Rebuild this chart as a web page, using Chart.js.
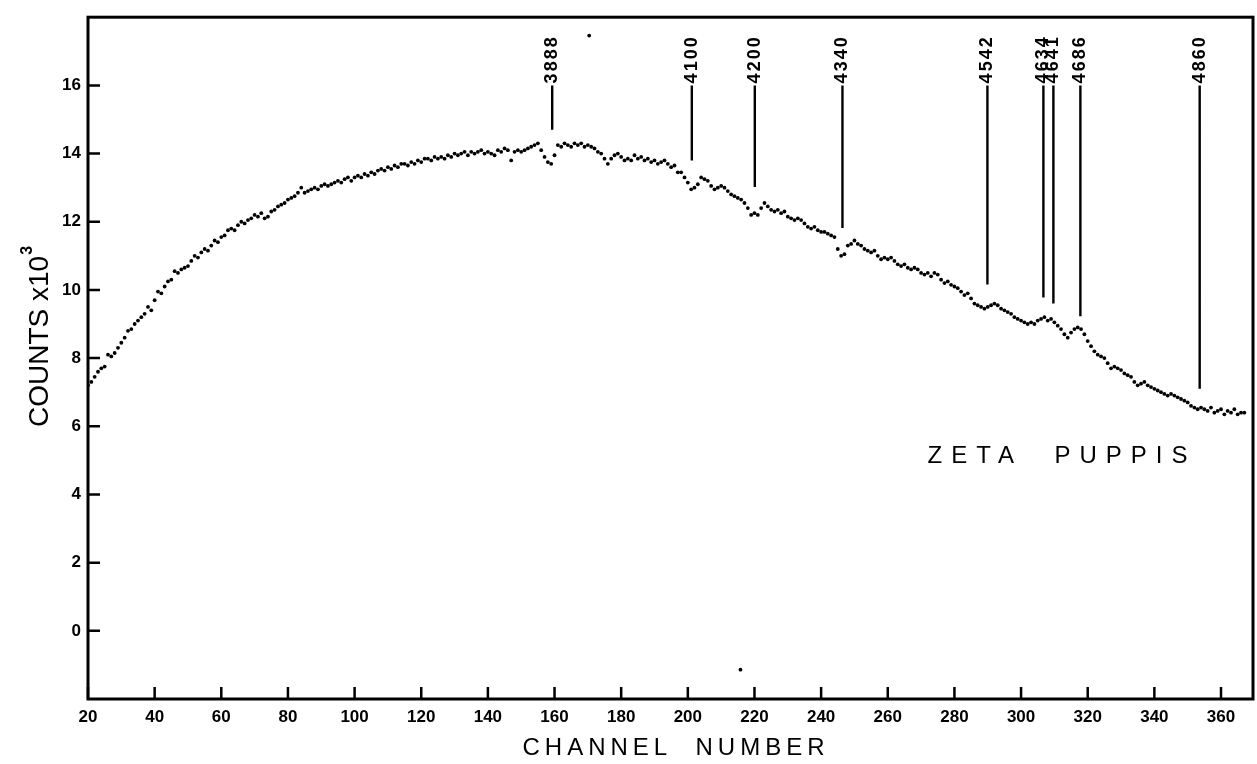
<!DOCTYPE html>
<html>
<head>
<meta charset="utf-8">
<script src="https://cdn.jsdelivr.net/npm/chart.js@4.4.1/dist/chart.umd.min.js"></script>
<style>
    body { margin: 0; background: #fff; }
    #wrap { width: 1257px; height: 764px; position: relative; }
</style>
</head>
<body>
<div id="wrap"><canvas id="spectrum"></canvas></div>
<script>
// counts (x10^3) per channel, starting at channel 20
var firstChannel = 20;
var counts = [
    7.20, 7.30, 7.45, 7.60, 7.70, 7.75, 8.10, 8.05, 8.15, 8.30,
    8.45, 8.60, 8.80, 8.85, 9.00, 9.10, 9.20, 9.30, 9.50, 9.40,
    9.70, 9.95, 9.90, 10.10, 10.25, 10.30, 10.55, 10.50, 10.60, 10.65,
    10.70, 10.85, 11.00, 10.95, 11.10, 11.20, 11.15, 11.30, 11.45, 11.40,
    11.55, 11.60, 11.75, 11.80, 11.75, 11.90, 12.00, 11.95, 12.05, 12.10,
    12.20, 12.15, 12.25, 12.10, 12.15, 12.30, 12.35, 12.45, 12.50, 12.55,
    12.65, 12.70, 12.75, 12.85, 13.00, 12.85, 12.90, 12.95, 13.00, 12.95,
    13.05, 13.10, 13.05, 13.10, 13.15, 13.20, 13.15, 13.25, 13.30, 13.20,
    13.30, 13.35, 13.30, 13.40, 13.35, 13.45, 13.40, 13.50, 13.55, 13.50,
    13.60, 13.55, 13.65, 13.60, 13.70, 13.70, 13.65, 13.75, 13.70, 13.80,
    13.75, 13.85, 13.85, 13.80, 13.90, 13.85, 13.90, 13.85, 13.95, 13.90,
    14.00, 13.95, 14.00, 14.05, 13.95, 14.05, 14.00, 14.05, 14.10, 14.00,
    14.05, 14.00, 13.95, 14.10, 14.05, 14.15, 14.10, 13.80, 14.05, 14.10,
    14.05, 14.10, 14.15, 14.20, 14.25, 14.30, 14.10, 13.90, 13.75, 13.70,
    13.95, 14.25, 14.20, 14.30, 14.25, 14.20, 14.30, 14.25, 14.30, 14.20,
    14.25, 14.20, 14.15, 14.05, 14.00, 13.85, 13.70, 13.85, 13.95, 14.00,
    13.90, 13.80, 13.85, 13.80, 13.95, 13.85, 13.90, 13.80, 13.85, 13.75,
    13.80, 13.70, 13.75, 13.80, 13.70, 13.60, 13.65, 13.45, 13.45, 13.30,
    13.15, 12.95, 13.00, 13.10, 13.30, 13.25, 13.20, 13.05, 12.95, 13.00,
    13.05, 13.00, 12.90, 12.80, 12.75, 12.70, 12.65, 12.55, 12.40, 12.20,
    12.25, 12.20, 12.40, 12.55, 12.45, 12.35, 12.30, 12.35, 12.25, 12.30,
    12.15, 12.10, 12.05, 12.10, 12.05, 11.95, 11.85, 11.80, 11.85, 11.75,
    11.70, 11.70, 11.65, 11.60, 11.55, 11.20, 11.00, 11.05, 11.30, 11.35,
    11.45, 11.35, 11.30, 11.20, 11.15, 11.10, 11.15, 11.00, 10.90, 10.95,
    10.90, 10.95, 10.85, 10.75, 10.70, 10.75, 10.65, 10.60, 10.65, 10.60,
    10.50, 10.45, 10.50, 10.40, 10.50, 10.45, 10.30, 10.20, 10.25, 10.15,
    10.10, 10.05, 9.95, 9.85, 9.90, 9.75, 9.60, 9.55, 9.50, 9.45,
    9.50, 9.55, 9.60, 9.55, 9.45, 9.40, 9.35, 9.30, 9.20, 9.15,
    9.10, 9.05, 9.00, 9.05, 9.00, 9.10, 9.15, 9.20, 9.10, 9.15,
    9.05, 8.95, 8.85, 8.70, 8.60, 8.75, 8.85, 8.90, 8.85, 8.70,
    8.50, 8.35, 8.20, 8.10, 8.05, 8.00, 7.85, 7.70, 7.75, 7.70,
    7.65, 7.55, 7.50, 7.45, 7.30, 7.20, 7.25, 7.30, 7.20, 7.15,
    7.10, 7.05, 7.00, 6.95, 6.90, 6.95, 6.90, 6.85, 6.80, 6.75,
    6.70, 6.60, 6.55, 6.50, 6.55, 6.50, 6.45, 6.55, 6.40, 6.45,
    6.50, 6.35, 6.45, 6.40, 6.50, 6.35, 6.40, 6.40
];

// stray specks on the scan
var speckChannels = [170.4, 215.8];
var speckCounts = [17.46, -1.14];

// identified lines (wavelength labels), channel and where each marker stops
var lineLabels = ['3888', '4100', '4200', '4340', '4542', '4634', '4641', '4686', '4860'];
var lineChannels = [159.3, 201.2, 220.1, 246.4, 289.9, 306.7, 309.7, 317.8, 353.6];
var lineEnds = [14.70, 13.80, 13.02, 11.82, 10.16, 9.78, 9.60, 9.23, 7.10];
var lineTop = 16.0;

var xTicks = [20, 40, 60, 80, 100, 120, 140, 160, 180, 200, 220, 240, 260, 280, 300, 320, 340, 360];
var yTicks = [0, 2, 4, 6, 8, 10, 12, 14, 16];

var points = counts.map(function (v, i) { return { x: firstChannel + i, y: v }; });
var specks = speckChannels.map(function (c, i) { return { x: c, y: speckCounts[i] }; });

var frameAndTicks = {
    id: 'frameAndTicks',
    afterDraw: function (chart) {
        var ctx = chart.ctx, a = chart.chartArea;
        var xs = chart.scales.x, ys = chart.scales.y;
        ctx.save();
        ctx.strokeStyle = '#000';
        ctx.lineWidth = 3;
        ctx.strokeRect(a.left, a.top, a.right - a.left, a.bottom - a.top);

        // inward tick marks
        ctx.lineWidth = 2.5;
        ctx.beginPath();
        xTicks.forEach(function (t) {
            var px = xs.getPixelForValue(t);
            ctx.moveTo(px, a.bottom);
            ctx.lineTo(px, a.bottom - 12);
        });
        yTicks.forEach(function (t) {
            var py = ys.getPixelForValue(t);
            ctx.moveTo(a.left, py);
            ctx.lineTo(a.left + 12, py);
        });
        ctx.stroke();

        // line markers with rotated labels
        ctx.lineWidth = 2.4;
        ctx.beginPath();
        lineChannels.forEach(function (c, i) {
            var px = xs.getPixelForValue(c);
            ctx.moveTo(px, ys.getPixelForValue(lineTop));
            ctx.lineTo(px, ys.getPixelForValue(lineEnds[i]));
        });
        ctx.stroke();
        ctx.fillStyle = '#000';
        ctx.font = 'bold 18px "Liberation Sans"';
        ctx.letterSpacing = '2px';
        ctx.textAlign = 'left';
        ctx.textBaseline = 'middle';
        lineChannels.forEach(function (c, i) {
            var px = xs.getPixelForValue(c);
            ctx.save();
            ctx.translate(px, ys.getPixelForValue(lineTop) - 2);
            ctx.rotate(-Math.PI / 2);
            ctx.fillText(lineLabels[i], 0, 0);
            ctx.restore();
        });

        // axis titles and star name
        ctx.letterSpacing = '0px';
        ctx.save();
        ctx.translate(48, 427);
        ctx.rotate(-Math.PI / 2);
        ctx.textBaseline = 'alphabetic';
        ctx.font = '28px "Liberation Sans"';
        ctx.fillText('COUNTS x10', 0, 0);
        var w = ctx.measureText('COUNTS x10').width;
        ctx.font = 'bold 16px "Liberation Sans"';
        ctx.fillText('3', w + 1, -16);
        ctx.restore();

        ctx.textAlign = 'center';
        ctx.textBaseline = 'middle';
        ctx.font = '24px "Liberation Sans"';
        ctx.letterSpacing = '5px';
        ctx.fillText('CHANNEL  NUMBER', 676, 748);
        ctx.letterSpacing = '9px';
        ctx.fillText('ZETA  PUPPIS', 1062, 456);
        ctx.restore();
    }
};

var ctx = document.getElementById('spectrum').getContext('2d');
var chart = new Chart(ctx, {
    type: 'scatter',
    data: {
        datasets: [
            { data: points, pointRadius: 1.9, pointBackgroundColor: '#000', pointBorderWidth: 0 },
            { data: specks, pointRadius: 1.9, pointBackgroundColor: '#000', pointBorderWidth: 0 }
        ]
    },
    options: {
        responsive: true,
        maintainAspectRatio: false,
        animation: false,
        events: [],
        layout: { padding: { top: 13, right: 4, left: 0, bottom: 0 } },
        plugins: { legend: { display: false }, tooltip: { enabled: false } },
        scales: {
            x: {
                type: 'linear',
                min: 20,
                max: 369.6,
                afterFit: function (scale) { scale.height = 65; },
                afterBuildTicks: function (scale) {
                    scale.ticks = xTicks.map(function (v) { return { value: v }; });
                },
                grid: { display: false, drawTicks: false },
                border: { display: false },
                ticks: {
                    color: '#000',
                    padding: 8,
                    autoSkip: false,
                    maxRotation: 0,
                    font: { family: 'Liberation Sans', size: 17, weight: 'bold' }
                }
            },
            y: {
                type: 'linear',
                min: -2,
                max: 18,
                afterFit: function (scale) { scale.width = 88; },
                afterBuildTicks: function (scale) {
                    scale.ticks = yTicks.map(function (v) { return { value: v }; });
                },
                grid: { display: false, drawTicks: false },
                border: { display: false },
                ticks: {
                    color: '#000',
                    padding: 7,
                    font: { family: 'Liberation Sans', size: 17, weight: 'bold' }
                }
            }
        }
    },
    plugins: [frameAndTicks]
});
</script>
</body>
</html>
